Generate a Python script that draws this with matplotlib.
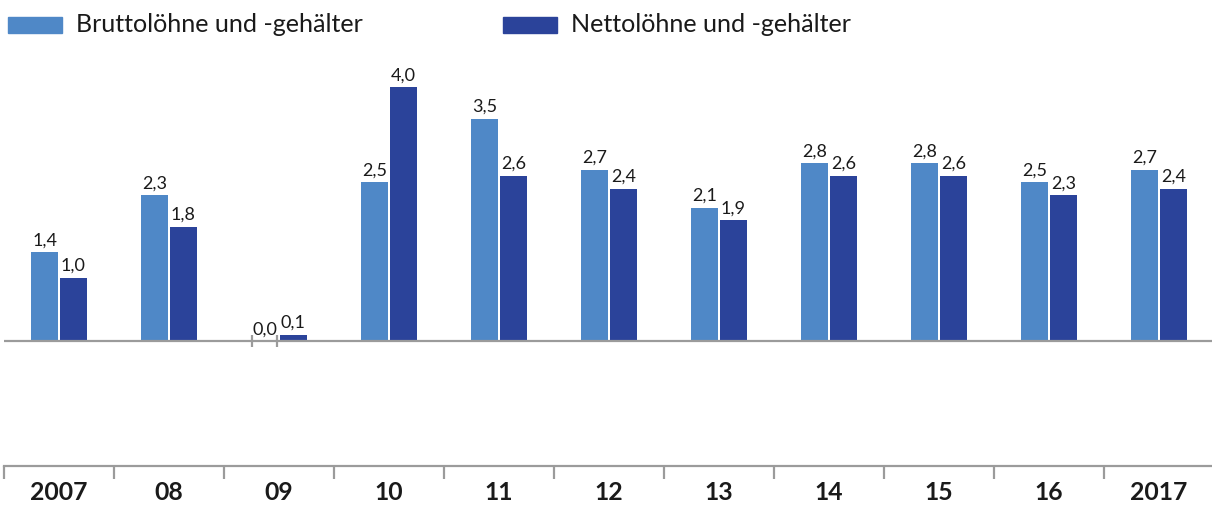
import matplotlib
matplotlib.use("Agg")
import matplotlib.pyplot as plt
import numpy as np
from matplotlib.patches import Rectangle

years = ["2007", "08", "09", "10", "11", "12", "13", "14", "15", "16", "2017"]
brutto = [1.4, 2.3, 0.0, 2.5, 3.5, 2.7, 2.1, 2.8, 2.8, 2.5, 2.7]
netto = [1.0, 1.8, 0.1, 4.0, 2.6, 2.4, 1.9, 2.6, 2.6, 2.3, 2.4]
series_names = ["Bruttolöhne und -gehälter", "Nettolöhne und -gehälter"]

c_light = "#4F88C7"
c_dark = "#2B439A"
c_grey = "#9B9B9B"

plt.rcParams['font.family'] = ['Lato', 'DejaVu Sans']

W, H = 1212, 505
fig = plt.figure(figsize=(W / 100, H / 100), dpi=100)

# axes: x from px 4 to 1214, y from px 466 (bottom) to 87 (value 4.0)
ax = fig.add_axes([4 / W, 1 - 466 / H, 1210 / W, (466 - 87) / H])
ax.set_clip_on(False)
ppu = (341 - 87) / 4.0
ymin = -(466 - 341) / ppu
ax.set_ylim(ymin, 4.0)
ax.set_xlim(-0.5, len(years) - 0.5)

x = np.arange(len(years))
bw = 0.252
off = 0.131
ax.bar(x - off, brutto, width=bw, color=c_light, zorder=2)
ax.bar(x + off, netto, width=bw, color=c_dark, zorder=2)

ax.axhline(0, color=c_grey, lw=1.6, zorder=3)

fs_val = 13
for i in range(len(years)):
    for xv, v in ((x[i] - off, brutto[i]), (x[i] + off, netto[i])):
        ax.text(xv, max(v, 0) + 0.06, f"{v:.1f}".replace(".", ","), ha="center",
                va="bottom", fontsize=fs_val, color="#1a1a1a", zorder=4)
    if brutto[i] == 0:
        for ex in (x[i] - off - bw / 2 + 0.01, x[i] - off + bw / 2 - 0.01):
            ax.plot([ex, ex], [-0.09, 0.09], color=c_grey, lw=1.6, zorder=4,
                    solid_capstyle="butt")

for s in ("top", "left", "right"):
    ax.spines[s].set_visible(False)
ax.spines["bottom"].set_color(c_grey)
ax.spines["bottom"].set_linewidth(1.6)
ax.set_yticks([])
ax.set_xticks(np.arange(-0.5, len(years), 1.0))
ax.set_xticklabels([])
ax.tick_params(axis="x", direction="out", length=9, width=1.6, color=c_grey)
for i, y in enumerate(years):
    ax.text(x[i], ymin - (492 - 466) / ppu, y, ha="center", va="center",
            fontsize=17.8, fontweight="bold", color="#1a1a1a")

# legend
for (lx, tx, col, name) in ((8, 76, c_light, series_names[0]),
                            (503, 571, c_dark, series_names[1])):
    fig.patches.append(Rectangle((lx / W, 1 - 33 / H), 54 / W, 16 / H,
                                 transform=fig.transFigure, color=col))
    fig.text(tx / W, 1 - 24 / H, name, ha="left", va="center",
             fontsize=18.1, color="#1a1a1a")

fig.savefig("out.png", dpi=100)
